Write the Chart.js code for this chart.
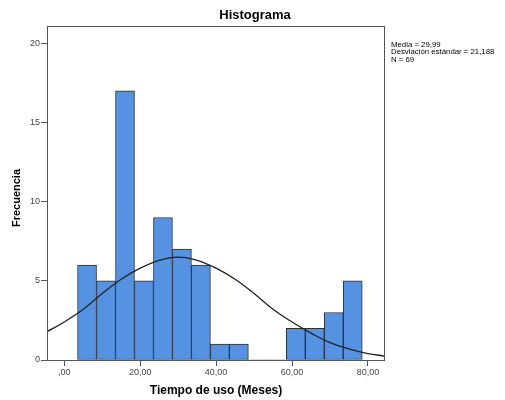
<!DOCTYPE html>
<html>
<head>
<meta charset="utf-8">
<script src="https://cdn.jsdelivr.net/npm/chart.js@4.4.1/dist/chart.umd.min.js"></script>
<style>
html, body { margin: 0; padding: 0; background: #fff; }
</style>
</head>
<body>
<canvas id="hist" width="505" height="400"></canvas>
<script>
const binCenters = [6, 11, 16, 21, 26, 31, 36, 41, 46, 51, 56, 61, 66, 71, 76];
const frequencies = [6, 5, 17, 5, 9, 7, 6, 1, 1, 0, 0, 2, 2, 3, 5];
// Curva normal (valores estimados sobre la imagen)
const curveX = [-4.5, 0, 5, 10, 15, 20, 25, 30, 35, 40, 45, 50, 55, 60, 65, 70, 75, 80, 84.5];
const curveY = [1.8, 2.4, 3.2, 4.2, 5.1, 5.8, 6.3, 6.5, 6.3, 5.8, 5.1, 4.2, 3.2, 2.4, 1.7, 1.1, 0.7, 0.4, 0.25];
const xTicks = [0, 20, 40, 60, 80];
const xTickLabels = [',00', '20,00', '40,00', '60,00', '80,00'];
const yTicks = [0, 5, 10, 15, 20];
const statsLines = ['Media = 29,99', 'Desviación estándar = 21,188', 'N = 69'];

const FONT = '"Liberation Sans", Arial, sans-serif';
const AXIS_COLOR = '#555';

// Textos y marco dibujados a mano
const decorPlugin = {
    id: 'decor',
    afterDatasetsDraw(chart) {
        const ctx = chart.ctx;
        const a = chart.chartArea;
        ctx.save();
        ctx.strokeStyle = AXIS_COLOR;
        ctx.lineWidth = 1;
        ctx.strokeRect(a.left + 0.5, a.top + 0.5, a.right - a.left - 1, a.bottom - a.top);

        ctx.fillStyle = '#000';
        ctx.textAlign = 'center';
        ctx.textBaseline = 'middle';
        ctx.font = 'bold 13px ' + FONT;
        ctx.fillText('Histograma', 255, 15);

        ctx.font = 'bold 12px ' + FONT;
        ctx.fillText('Tiempo de uso (Meses)', (a.left + a.right) / 2, 391);

        ctx.save();
        ctx.translate(17, 198);
        ctx.rotate(-Math.PI / 2);
        ctx.font = 'bold 11px ' + FONT;
        ctx.fillText('Frecuencia', 0, 0);
        ctx.restore();

        ctx.textAlign = 'left';
        ctx.font = '7.8px ' + FONT;
        ctx.fillStyle = '#000';
        statsLines.forEach((line, i) => {
            ctx.fillText(line, 391, 45 + i * 7.2);
        });
        ctx.restore();
    }
};

const ctx = document.getElementById('hist');
new Chart(ctx, {
    type: 'bar',
    data: {
        datasets: [
            {
                type: 'line',
                data: curveX.map((x, i) => ({ x: x, y: curveY[i] })),
                borderColor: '#222',
                borderWidth: 1.3,
                pointRadius: 0,
                tension: 0.4,
                fill: false,
                order: 0
            },
            {
                type: 'bar',
                data: binCenters.map((x, i) => ({ x: x, y: frequencies[i] })),
                backgroundColor: '#5592e2',
                borderColor: '#27323f',
                borderWidth: c => (c.raw && c.raw.y > 0 ? 1 : 0),
                borderSkipped: false,
                categoryPercentage: 1,
                barPercentage: 1,
                order: 1
            }
        ]
    },
    options: {
        responsive: false,
        animation: false,
        layout: { padding: { top: 26, right: 120, left: 0, bottom: 0 } },
        plugins: {
            legend: { display: false },
            tooltip: { enabled: false }
        },
        scales: {
            x: {
                type: 'linear',
                min: -4.55,
                max: 84.5,
                offset: false,
                afterFit: s => { s.height = 40; },
                afterBuildTicks: s => { s.ticks = xTicks.map(v => ({ value: v })); },
                border: { display: false },
                grid: {
                    drawOnChartArea: false,
                    drawTicks: true,
                    tickLength: 6,
                    color: AXIS_COLOR,
                    offset: false
                },
                ticks: {
                    autoSkip: false,
                    maxRotation: 0,
                    padding: 1,
                    color: '#444',
                    font: { family: FONT, size: 9 },
                    callback: (v, i) => xTickLabels[i]
                }
            },
            y: {
                min: 0,
                max: 21.1,
                afterFit: s => { s.width = 47; },
                afterBuildTicks: s => { s.ticks = yTicks.map(v => ({ value: v })); },
                border: { display: false },
                grid: {
                    drawOnChartArea: false,
                    drawTicks: true,
                    tickLength: 6,
                    color: AXIS_COLOR
                },
                ticks: {
                    padding: 1,
                    color: '#444',
                    font: { family: FONT, size: 9 }
                }
            }
        }
    },
    plugins: [decorPlugin]
});
</script>
</body>
</html>
